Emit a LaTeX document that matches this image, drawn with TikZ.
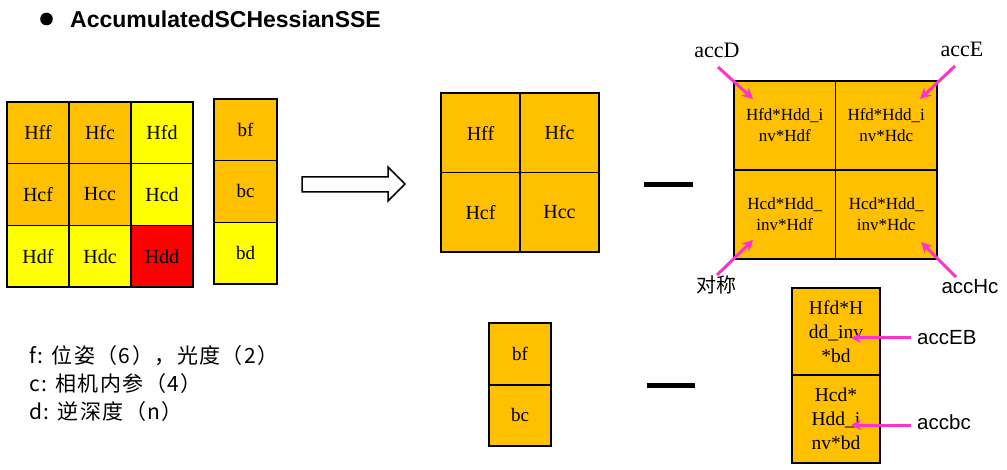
\documentclass[tikz,border=0pt]{standalone}
\usepackage{fontspec}
\setmainfont{Liberation Serif}
\setsansfont{Liberation Sans}
\newfontfamily\cjk{Noto Sans CJK SC}
\newfontfamily\cjkl[LetterSpace=7]{Noto Sans CJK SC}
\usetikzlibrary{arrows.meta}
\definecolor{orng}{HTML}{FFC000}
\definecolor{ylw}{HTML}{FFFF00}
\definecolor{rd}{HTML}{FF0000}
\definecolor{pnk}{HTML}{FF33CC}
\tikzset{
  cell/.style={draw=black, line width=1.5pt, inner sep=0pt, align=center, font=\fontsize{20}{22}\selectfont},
  bcell/.style={draw=black, line width=1.5pt, inner sep=0pt, align=center, font=\fontsize{19}{22}\selectfont},
  smallcell/.style={draw=black, line width=1.5pt, inner sep=0pt, align=center, font=\fontsize{17}{21}\selectfont},
  outer/.style={draw=black, line width=2.2pt},
  pk/.style={draw=pnk, line width=3pt, -{Stealth[length=11pt,width=11pt]}},
  serlab/.style={font=\fontsize{22}{24}\selectfont, inner sep=0pt},
  sanlab/.style={font=\sffamily\fontsize{20.5}{24}\selectfont, inner sep=0pt},
}
\begin{document}
\begin{tikzpicture}[x=1pt,y=-1pt]
\useasboundingbox (0,0) rectangle (1007,470);
% title
\fill (46.5,19) circle (6.3);
\node[anchor=west, inner sep=0pt, font=\sffamily\bfseries\fontsize{23}{26}\selectfont] (title) at (70,19) {AccumulatedSCHessianSSE};
% left 3x3 matrix
\begin{scope}[every node/.style={cell, minimum width=62pt, minimum height=61.7pt}]
\node[fill=orng] (hff) at (38,132.8) {Hff};
\node[fill=orng] (hfc) at (100,132.8) {Hfc};
\node[fill=ylw] (hfd) at (162,132.8) {Hfd};
\node[fill=orng] (hcf) at (38,194.5) {Hcf};
\node[fill=orng] (hcc) at (100,194.5) {Hcc};
\node[fill=ylw] (hcd) at (162,194.5) {Hcd};
\node[fill=ylw] (hdf) at (38,256.2) {Hdf};
\node[fill=ylw] (hdc) at (100,256.2) {Hdc};
\node[fill=rd] (hdd) at (162,256.2) {Hdd};
\end{scope}
\draw[outer] (7,102) rectangle (193,287);
% b column
\begin{scope}[every node/.style={bcell, minimum width=63pt, minimum height=61.7pt}]
\node[fill=orng] (bf) at (245.5,129.8) {bf};
\node[fill=orng] (bc) at (245.5,191.5) {bc};
\node[fill=ylw] (bd) at (245.5,253.2) {bd};
\end{scope}
\draw[outer] (214,99) rectangle (277,284);
% block arrow
\draw[line width=1.5pt, fill=white, line join=miter] (302,177) -- (388,177) -- (388,167) -- (405,184) -- (388,201) -- (388,192) -- (302,192) -- cycle;
% middle 2x2
\begin{scope}[every node/.style={cell, minimum width=79pt, minimum height=79.5pt}]
\node[fill=orng] (mff) at (480.5,133) {Hff};
\node[fill=orng] (mfc) at (559.5,133) {Hfc};
\node[fill=orng] (mcf) at (480.5,212.5) {Hcf};
\node[fill=orng] (mcc) at (559.5,212.5) {Hcc};
\end{scope}
\draw[outer] (441,93) rectangle (599,252);
% minus signs
\fill (644,182) rectangle (693,187);
\fill (647,383) rectangle (695,388);
% right 2x2
\begin{scope}[every node/.style={smallcell, minimum width=101.5pt, minimum height=89pt}]
\node[fill=orng] (rfd) at (784.75,125.5) {Hfd*Hdd\_i\\nv*Hdf};
\node[fill=orng] (rfc) at (886.25,125.5) {Hfd*Hdd\_i\\nv*Hdc};
\node[fill=orng] (rcf) at (784.75,214.5) {Hcd*Hdd\_\\inv*Hdf};
\node[fill=orng] (rcc) at (886.25,214.5) {Hcd*Hdd\_\\inv*Hdc};
\end{scope}
\draw[outer] (734,81) rectangle (937,259);
% labels for right 2x2
\node[serlab] (accD) at (717,50) {accD};
\node[serlab] (accE) at (962,49) {accE};
\node[font=\cjk\fontsize{20}{22}\selectfont, inner sep=0pt] (sym) at (716,285) {对称};
\node[sanlab] (accHc) at (970,287) {accHc};
\coordinate (pD0) at (718,67); \coordinate (pD1) at (753,99);
\coordinate (pE0) at (955,66); \coordinate (pE1) at (920,99);
\coordinate (pS0) at (717,275); \coordinate (pS1) at (753,240);
\coordinate (pH0) at (956,277); \coordinate (pH1) at (921,242);
\draw[pk] (pD0) -- (pD1);
\draw[pk] (pE0) -- (pE1);
\draw[pk] (pS0) -- (pS1);
\draw[pk] (pH0) -- (pH1);
% bottom b column
\begin{scope}[every node/.style={bcell, minimum width=62pt, minimum height=61.5pt}]
\node[fill=orng] (bbf) at (520,354) {bf};
\node[fill=orng] (bbc) at (520,415.5) {bc};
\end{scope}
\draw[outer] (489,323) rectangle (551,446);
% bottom right column
\begin{scope}[every node/.style={smallcell, minimum width=88pt, font=\fontsize{19.5}{24}\selectfont}]
\node[fill=orng, minimum height=87pt] (rEB) at (836,332) {Hfd*H\\dd\_inv\\*bd};
\node[fill=orng, minimum height=88pt] (rbc) at (836,419) {Hcd*\\Hdd\_i\\nv*bd};
\end{scope}
\draw[outer] (792,288) rectangle (880,463);
\node[sanlab, anchor=west] (accEB) at (917,338) {accEB};
\node[sanlab, anchor=west] (accbc) at (917,422) {accbc};
\coordinate (eb1) at (851,338);
\coordinate (bc1) at (851,425);
\draw[pk, -{Stealth[length=10pt,width=10pt]}] (accEB.west) ++(-6,0) -- (eb1);
\draw[pk, -{Stealth[length=10pt,width=10pt]}] (accbc.west) ++(-6,3) -- (bc1);
% legend
\begin{scope}[every node/.style={anchor=west, inner sep=0pt, font=\cjkl\fontsize{21}{25}\selectfont}]
\node (lf) at (29,356) {f: 位姿（6），光度（2）};
\node (lc) at (29,384) {c: 相机内参（4）};
\node (ld) at (29,412) {d: 逆深度（n）};
\end{scope}
\end{tikzpicture}
\end{document}
